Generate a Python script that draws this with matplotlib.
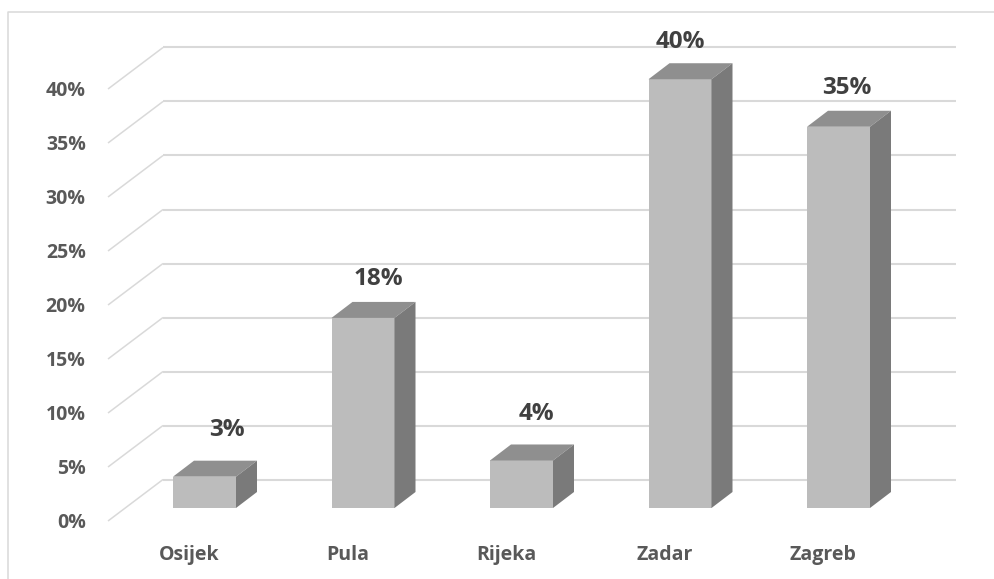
import matplotlib
matplotlib.use('Agg')
import matplotlib.pyplot as plt
from matplotlib.lines import Line2D
from matplotlib.patches import Polygon

#chart values
cities = ['Osijek', 'Pula', 'Rijeka', 'Zadar', 'Zagreb']
values = [2.9, 17.6, 4.4, 39.7, 35.3]
value_labels = ['3%', '18%', '4%', '40%', '35%']
ticks = [0, 5, 10, 15, 20, 25, 30, 35, 40]
tick_labels = ['0%', '5%', '10%', '15%', '20%', '25%', '30%', '35%', '40%']

plt.rcParams['font.family'] = ['Open Sans', 'DejaVu Sans']

W, H = 994, 579
fig = plt.figure(figsize=(W / 100, H / 100), dpi=100)

#axes zero sits on the front edge of the floor
left, right, bottom, top = 108, 956, 521, 89
ax = fig.add_axes([left / W, 1 - bottom / H, (right - left) / W, (bottom - top) / H])
px_x = 158.5  #pixels per category
px_y = 10.8   #pixels per percent
ax.set_xlim((left - 189) / px_x, (right - 189) / px_x)
ax.set_ylim(0, 40)
for s in ax.spines.values():
    s.set_visible(False)

#floor and wall lines
wall_dx = 55 / px_x
wall_dy = 41.5 / px_y
for t in ticks:
    x0 = ax.get_xlim()[0]
    ax.plot([x0, x0 + wall_dx], [t, t + wall_dy], color='#d9d9d9', lw=1.1,
            clip_on=False, zorder=1, solid_capstyle='butt')
    ax.plot([x0 + wall_dx, ax.get_xlim()[1]], [t + wall_dy, t + wall_dy], color='#d9d9d9',
            lw=1.5, clip_on=False, zorder=1, solid_capstyle='butt')

#3d looking bars
bar_shift = 15.5 / px_x
bar_w = 63 / px_x
lift = 13 / px_y
depth_x = 21 / px_x
depth_y = 16 / px_y
label_shift = [22, 15, 15, 0, 8]  #the labels were moved by hand in the original
label_gap = [47, 39, 46, 37, 39]
xpos = [i + bar_shift for i in range(len(cities))]
ax.bar(xpos, values, width=bar_w, bottom=lift, color='#bcbcbc', zorder=3, clip_on=False)
for i in range(len(cities)):
    x1 = xpos[i] - bar_w / 2
    x2 = xpos[i] + bar_w / 2
    y1 = lift
    y2 = lift + values[i]
    ax.add_patch(Polygon([(x1, y2), (x2, y2), (x2 + depth_x, y2 + depth_y), (x1 + depth_x, y2 + depth_y)],
                         closed=True, fc='#8f8f8f', ec='none', zorder=3, clip_on=False))
    ax.add_patch(Polygon([(x2, y1), (x2 + depth_x, y1 + depth_y), (x2 + depth_x, y2 + depth_y), (x2, y2)],
                         closed=True, fc='#7a7a7a', ec='none', zorder=3, clip_on=False))
    ax.annotate(value_labels[i], (xpos[i], y2), xytext=(label_shift[i] * 0.72, label_gap[i] * 0.72),
                textcoords='offset points', ha='center', va='center', fontsize=17.5,
                fontweight='bold', color='#404040', zorder=5, annotation_clip=False)

ax.set_xticks(range(len(cities)), cities)
ax.set_yticks(ticks, tick_labels)
ax.tick_params(axis='both', length=0, labelcolor='#595959', labelsize=14)
ax.tick_params(axis='y', pad=16)
ax.tick_params(axis='x', pad=17)
for lab in ax.get_xticklabels() + ax.get_yticklabels():
    lab.set_fontweight('bold')

#chart border, only top and left show
fig.add_artist(Line2D([7.5 / W, 7.5 / W, 1], [0, 1 - 11.5 / H, 1 - 11.5 / H], color='#d9d9d9', lw=1.1))

plt.savefig('out.png', dpi=100)
